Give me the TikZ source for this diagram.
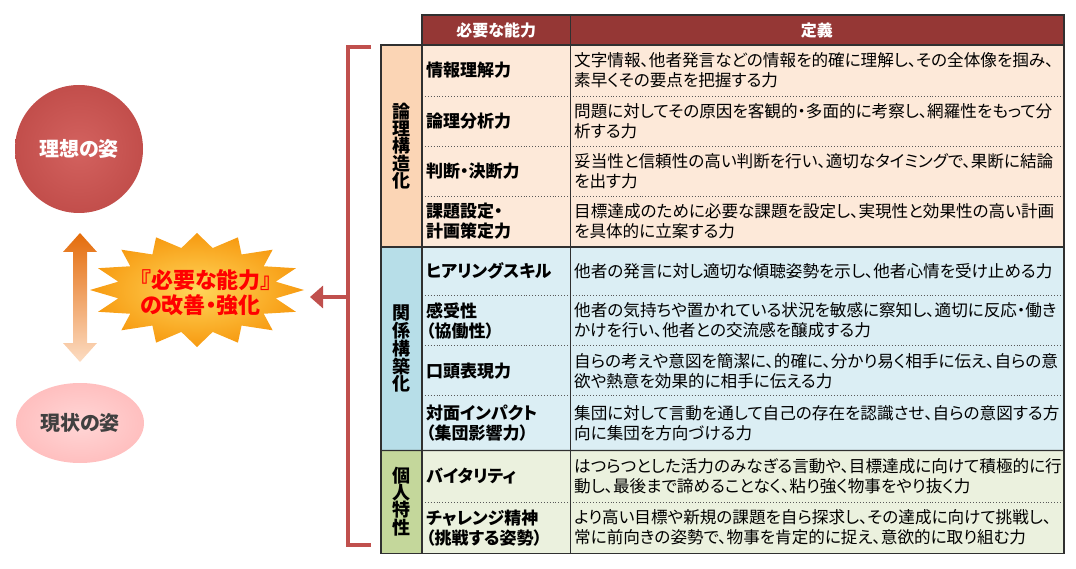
\documentclass[tikz,border=0pt]{standalone}
\usepackage{fontspec}
\setmainfont{Noto Sans CJK JP}
\newfontfamily\jpp[RawFeature=+palt]{Noto Sans CJK JP}
\usetikzlibrary{arrows.meta,shapes.geometric}

\definecolor{hdr}{HTML}{953735}
\definecolor{gA}{HTML}{FBD5B5}
\definecolor{rA}{HTML}{FDE9D9}
\definecolor{gB}{HTML}{B7DEE8}
\definecolor{rB}{HTML}{DBEEF4}
\definecolor{gC}{HTML}{C4D79B}
\definecolor{rC}{HTML}{EBF1DE}
\definecolor{brk}{HTML}{C0504D}
\definecolor{rulec}{HTML}{303030}
\definecolor{arrTop}{HTML}{E46C0A}
\definecolor{arrMid}{HTML}{F0A468}
\definecolor{arrBot}{HTML}{FCDCC2}
\definecolor{starIn}{HTML}{FFD55A}
\definecolor{starOut}{HTML}{F79A10}
\definecolor{idealIn}{HTML}{D3625F}
\definecolor{idealOut}{HTML}{C24E4B}
\definecolor{curIn}{HTML}{FFD6D6}
\definecolor{curOut}{HTML}{FFBFBF}

\tikzset{
  abil/.style={anchor=north west, inner xsep=4pt, inner ysep=0pt, text width=140pt,
    minimum height=#1, align=left, font=\jpp\bfseries\fontsize{17}{20}\selectfont},
  defn/.style={anchor=north west, inner xsep=4pt, inner ysep=0pt, text width=485.5pt,
    minimum height=#1, align=left, font=\jpp\fontsize{16.6}{20}\selectfont},
  grp/.style={anchor=north west, inner sep=0pt, minimum width=41pt, minimum height=#1,
    align=center, font=\bfseries\fontsize{18}{17}\selectfont},
  hdrcell/.style={anchor=north west, inner sep=0pt, fill=hdr, text=white, minimum height=30pt,
    minimum width=#1, font=\jpp\bfseries\fontsize{16}{18}\selectfont},
  tline/.style={draw=rulec, line width=1.3pt},
  dline/.style={draw=rulec!80, line width=0.9pt, dotted},
  brkline/.style={draw=brk, line width=3.5pt},
}

\newcommand\tabrow[6]{%
  \node[abil=#3pt, fill=#4] (a-#1) at (422,#2) {#5};
  \node[defn=#3pt, fill=#4] (d-#1) at (570,#2) {#6};}

\begin{document}
\begin{tikzpicture}[x=1pt,y=-1pt]
\useasboundingbox (0,0) rectangle (1076,569);

% ---------- left side ----------
\node[circle, minimum size=128pt, inner sep=0pt, inner color=idealIn, outer color=idealOut,
  text=white, font=\jpp\bfseries\fontsize{20}{22}\selectfont] (ideal) at (79,149) {理想の姿};
\node[ellipse, minimum width=128pt, minimum height=80pt, inner sep=0pt, inner color=curIn,
  outer color=curOut, text=black!75, font=\jpp\bfseries\fontsize{20}{22}\selectfont]
  (current) at (80,423) {現状の姿};

\shade[top color=arrTop, bottom color=arrBot, middle color=arrMid]
  (80,233) -- (97,252) -- (87,252) -- (87,343) -- (97,343) -- (80,362)
  -- (63,343) -- (73,343) -- (73,252) -- (63,252) -- cycle;

% starburst
\path[inner color=starIn, outer color=starOut]
  (197,233) \foreach \i in {0,...,15} {
    -- ({197+0.75*107*cos(90+\i*22.5+11.25)}, {290-0.75*57*sin(90+\i*22.5+11.25)})
    -- ({197+107*cos(90+\i*22.5+22.5)}, {290-57*sin(90+\i*22.5+22.5)})
  } -- cycle;
\node[align=left, text=red, font=\jpp\bfseries\fontsize{22}{25}\selectfont]
  (startext) at (206,293) {『必要な能力』\\の改善・強化};

% bracket
\coordinate (brtop) at (371,47);
\coordinate (brbot) at (371,545);
\coordinate (brmid) at (348,297);
\coordinate (tip) at (310,297);
\draw[brkline] (brtop) -- (348,47) -- (348,545) -- (brbot);
\draw[brkline, -{Triangle[length=13pt,width=22pt]}] (brmid) -- (tip);

% ---------- table ----------
\node[hdrcell=148pt] (h1) at (422,15) {必要な能力};
\node[hdrcell=493.5pt] (h2) at (570,15) {定義};

\node[grp=201.7pt, fill=gA] (gA) at (381,45) {論\\理\\構\\造\\化};
\node[grp=203.3pt, fill=gB] (gB) at (381,246.7) {関\\係\\構\\築\\化};
\node[grp=103.3pt, fill=gC] (gC) at (381,450) {個\\人\\特\\性};

\tabrow{A1}{45}{50.7}{rA}{情報理解力}{文字情報、他者発言などの情報を的確に理解し、その全体像を掴み、\\素早くその要点を把握する力}
\tabrow{A2}{95.7}{50.1}{rA}{論理分析力}{問題に対してその原因を客観的・多面的に考察し、網羅性をもって分\\析する力}
\tabrow{A3}{145.8}{50.1}{rA}{判断・決断力}{妥当性と信頼性の高い判断を行い、適切なタイミングで、果断に結論\\を出す力}
\tabrow{A4}{195.9}{50.8}{rA}{課題設定・\\計画策定力}{目標達成のために必要な課題を設定し、実現性と効果性の高い計画\\を具体的に立案する力}
\tabrow{B1}{246.7}{48.5}{rB}{ヒアリングスキル}{他者の発言に対し適切な傾聴姿勢を示し、他者心情を受け止める力}
\tabrow{B2}{295.2}{50.3}{rB}{感受性\\（協働性）}{他者の気持ちや置かれている状況を敏感に察知し、適切に反応・働き\\かけを行い、他者との交流感を醸成する力}
\tabrow{B3}{345.5}{50}{rB}{口頭表現力}{自らの考えや意図を簡潔に、的確に、分かり易く相手に伝え、自らの意\\欲や熱意を効果的に相手に伝える力}
\tabrow{B4}{395.5}{54.5}{rB}{対面インパクト\\（集団影響力）}{集団に対して言動を通して自己の存在を認識させ、自らの意図する方\\向に集団を方向づける力}
\tabrow{C1}{450}{51.7}{rC}{バイタリティ}{はつらつとした活力のみなぎる言動や、目標達成に向けて積極的に行\\動し、最後まで諦めることなく、粘り強く物事をやり抜く力}
\tabrow{C2}{501.7}{51.6}{rC}{チャレンジ精神\\（挑戦する姿勢）}{より高い目標や新規の課題を自ら探求し、その達成に向けて挑戦し、\\常に前向きの姿勢で、物事を肯定的に捉え、意欲的に取り組む力}

% rules
\foreach \r in {A1,A2,A3,B1,B2,B3,C1}
  \draw[dline] (a-\r.south west) -- (d-\r.south east);
\draw[tline] (gA.south west) -- (d-A4.south east);
\draw[tline] (gB.south west) -- (d-B4.south east);
\draw[tline] (h1.north west) -- (a-C2.south west);
\draw[tline] (h1.north east) -- (a-C2.south east);
\draw[tline] (h1.north west) rectangle (h2.south east);
\draw[tline] (gA.north west) rectangle (d-C2.south east);
\end{tikzpicture}
\end{document}
